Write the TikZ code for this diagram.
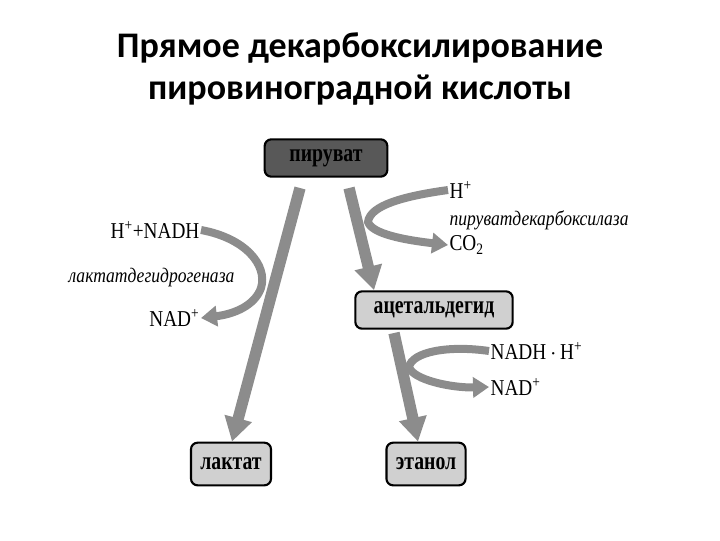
\documentclass[tikz,border=0pt]{standalone}
\usepackage{fontspec}
\setmainfont{Liberation Serif}
\newfontfamily\titlefont{Carlito}
\newfontfamily\boxfont{Liberation Serif}[FakeStretch=0.78]
\newfontfamily\labelfont{Liberation Serif}[FakeStretch=0.85]
\usetikzlibrary{arrows.meta}

\definecolor{flowgray}{HTML}{8C8C8C}
\definecolor{darkbox}{HTML}{585858}
\definecolor{lightbox}{HTML}{D0D0D0}

\begin{document}
\begin{tikzpicture}[
    x=0.75pt, y=-0.75pt,
    box/.style={rectangle, rounded corners=5pt, draw=black, line width=1.6pt, fill=lightbox,
                font=\boxfont\bfseries\fontsize{19}{22}\selectfont, inner xsep=7pt, inner ysep=0pt,
                minimum height=28pt, text centered},
    mainarrow/.style={draw=flowgray, line width=8.5pt, -{Triangle[length=18pt, width=20pt]}},
    sidearrow/.style={draw=flowgray, line width=6pt, -{Triangle[length=12pt, width=15pt]}},
    chem/.style={font=\labelfont\fontsize{17}{20}\selectfont, inner sep=1pt},
    enzyme/.style={font=\labelfont\itshape\fontsize{15.5}{18}\selectfont, inner sep=1pt}
]
\useasboundingbox (0,0) rectangle (720,540);

% Title
\node (title) at (360,69) [align=center, font=\titlefont\bfseries\fontsize{27}{31.5}\selectfont]
    {Прямое декарбоксилирование\\пировиноградной кислоты};

% Nodes
\node (pyr) at (326,158) [box, fill=darkbox, minimum width=92pt] {пируват};
\node (acet) at (434,310) [box, minimum width=118pt] {ацетальдегид};
\node (lact) at (231,464) [box, minimum width=58pt, minimum height=32pt] {лактат};
\node (eth) at (426,464) [box, minimum width=59pt, minimum height=32pt] {этанол};

% Labels
\node (nadh1) at (201,230) [chem, anchor=east] {H\textsuperscript{+}+NADH};
\node (ldh) at (236,278) [enzyme, anchor=east] {лактатдегидрогеназа};
\node (nad1) at (201,318) [chem, anchor=east] {NAD\textsuperscript{+}};
\node (hplus) at (448,190) [chem, anchor=west] {H\textsuperscript{+}};
\node (pdc) at (448,220) [enzyme, anchor=west] {пируватдекарбоксилаза};
\node (co2) at (448,245) [chem, anchor=west] {CO\textsubscript{2}};
\node (nadh2) at (489,351) [chem, anchor=west] {NADH\,$\cdot$\,H\textsuperscript{+}};
\node (nad2) at (489,387) [chem, anchor=west] {NAD\textsuperscript{+}};

% Flow arrows
\draw [mainarrow] (300,188) -- (lact.north -| 232,430);
\draw [mainarrow] (349,188) -- (acet.north -| 374,284);
\draw [mainarrow] (394,333) -- (eth.north -| 418,430);

% Side reactions
\draw [sidearrow] (nadh1.east) .. controls (245,238) and (268,265) .. (261,288)
    .. controls (255,305) and (235,314) .. (nad1.east);
\draw [sidearrow] (hplus.west) .. controls (405,196) and (370,205) .. (368,222)
    .. controls (372,234) and (405,240) .. (co2.west);
\draw [sidearrow] (nadh2.west) .. controls (448,345) and (412,352) .. (409,367)
    .. controls (413,380) and (452,388) .. (nad2.west);

\end{tikzpicture}
\end{document}
